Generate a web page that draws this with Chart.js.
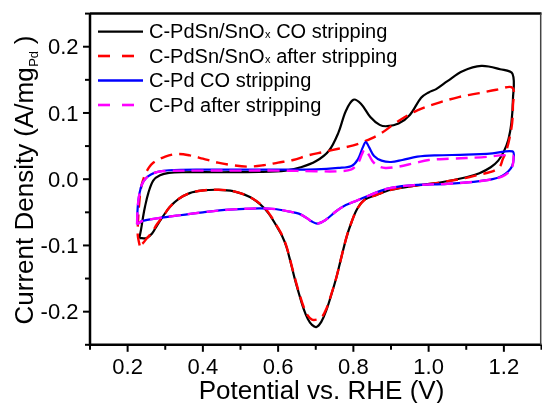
<!DOCTYPE html>
<html><head><meta charset="utf-8">
<script src="https://cdn.jsdelivr.net/npm/chart.js@4.4.1/dist/chart.umd.min.js"></script>
<style>html,body{margin:0;padding:0;background:#fff;}canvas{display:block;}</style>
</head><body>
<canvas id="c" width="542" height="403"></canvas>
<script>
// ---- Data (Potential V vs RHE, Current density A/mg_Pd) ----
const pdsnCoV = [0.231,0.236,0.241,0.246,0.255,0.268,0.286,0.31,0.35,0.45,0.55,0.62,0.66,0.70,0.735,0.76,0.78,0.80,0.82,0.845,0.87,0.89,0.92,0.95,0.98,1.00,1.02,1.05,1.09,1.14,1.19,1.223,
  1.224,1.22,1.212,1.20,1.185,1.165,1.135,1.10,1.03,0.96,0.90,0.86,0.83,0.81,0.795,0.782,0.768,0.755,0.74,0.728,0.715,0.702,0.69,0.679,0.668,0.657,0.645,0.633,0.622,0.61,0.596,0.58,0.56,0.525,0.48,0.44,0.40,0.365,0.335,0.312,0.293,0.278,0.265,0.25,0.238,0.231];
const pdsnCoJ = [-0.089,-0.075,-0.057,-0.042,-0.021,-0.002,0.006,0.0095,0.0105,0.0105,0.011,0.013,0.018,0.027,0.043,0.07,0.103,0.12,0.114,0.094,0.082,0.08,0.084,0.097,0.123,0.131,0.136,0.148,0.163,0.171,0.166,0.159,
  0.12,0.085,0.06,0.042,0.028,0.018,0.009,0.003,-0.005,-0.01,-0.016,-0.024,-0.031,-0.045,-0.065,-0.087,-0.118,-0.148,-0.177,-0.198,-0.215,-0.223,-0.220,-0.211,-0.196,-0.176,-0.152,-0.125,-0.102,-0.085,-0.071,-0.056,-0.042,-0.027,-0.018,-0.016,-0.017,-0.021,-0.03,-0.042,-0.057,-0.07,-0.082,-0.089,-0.089,-0.089];

const pdsnAfterV = [0.232,0.227,0.228,0.231,0.236,0.245,0.256,0.268,0.30,0.33,0.365,0.40,0.44,0.48,0.52,0.56,0.60,0.64,0.68,0.72,0.76,0.80,0.825,0.87,0.92,0.97,1.03,1.08,1.135,1.18,1.223,
  1.224,1.222,1.215,1.207,1.197,1.188,1.165,1.135,1.10,1.03,0.96,0.90,0.86,0.83,0.81,0.795,0.782,0.768,0.755,0.74,0.728,0.715,0.702,0.69,0.679,0.668,0.657,0.645,0.633,0.622,0.61,0.596,0.58,0.56,0.525,0.48,0.44,0.40,0.365,0.335,0.312,0.293,0.278,0.265,0.25,0.24,0.232];
const pdsnAfterJ = [-0.100,-0.085,-0.06,-0.035,-0.012,0.005,0.017,0.025,0.034,0.038,0.036,0.031,0.025,0.021,0.019,0.021,0.025,0.029,0.036,0.041,0.046,0.051,0.056,0.068,0.088,0.104,0.116,0.124,0.130,0.135,0.138,
  0.11,0.085,0.062,0.044,0.030,0.018,0.011,0.007,0.002,-0.005,-0.01,-0.016,-0.024,-0.031,-0.045,-0.065,-0.087,-0.118,-0.148,-0.176,-0.196,-0.209,-0.212,-0.212,-0.206,-0.193,-0.174,-0.150,-0.124,-0.101,-0.084,-0.07,-0.055,-0.041,-0.027,-0.018,-0.016,-0.017,-0.021,-0.03,-0.042,-0.057,-0.068,-0.08,-0.09,-0.097,-0.100];

const pdCoV = [0.225,0.226,0.228,0.232,0.238,0.248,0.262,0.28,0.31,0.40,0.50,0.60,0.70,0.76,0.795,0.812,0.825,0.833,0.842,0.855,0.875,0.90,0.93,0.97,1.02,1.10,1.17,1.223,
  1.226,1.222,1.212,1.195,1.17,1.12,1.05,0.96,0.90,0.87,0.84,0.81,0.78,0.755,0.725,0.705,0.69,0.677,0.655,0.631,0.59,0.55,0.47,0.40,0.33,0.28,0.24,0.225];
const pdCoJ = [-0.068,-0.05,-0.035,-0.02,-0.008,0.001,0.007,0.011,0.0135,0.0145,0.0145,0.0145,0.0148,0.017,0.02,0.03,0.048,0.056,0.048,0.035,0.028,0.026,0.029,0.034,0.036,0.037,0.039,0.042,
  0.03,0.02,0.012,0.005,0.0,-0.004,-0.007,-0.009,-0.013,-0.018,-0.025,-0.032,-0.039,-0.048,-0.062,-0.067,-0.064,-0.059,-0.052,-0.049,-0.045,-0.044,-0.046,-0.05,-0.055,-0.059,-0.063,-0.068];

const pdAfterV = [0.225,0.226,0.228,0.232,0.238,0.248,0.262,0.28,0.31,0.40,0.50,0.60,0.70,0.76,0.795,0.812,0.823,0.830,0.838,0.85,0.865,0.885,0.92,0.96,1.00,1.06,1.14,1.223,
  1.225,1.222,1.212,1.195,1.17,1.12,1.05,0.96,0.90,0.87,0.84,0.81,0.78,0.755,0.725,0.705,0.69,0.677,0.655,0.631,0.59,0.55,0.47,0.40,0.33,0.28,0.24,0.225];
const pdAfterJ = [-0.068,-0.05,-0.035,-0.02,-0.008,0.001,0.007,0.011,0.0125,0.013,0.013,0.013,0.012,0.012,0.015,0.024,0.038,0.045,0.04,0.028,0.02,0.017,0.019,0.024,0.029,0.031,0.033,0.036,
  0.028,0.018,0.01,0.004,0.0,-0.004,-0.007,-0.009,-0.013,-0.018,-0.025,-0.032,-0.039,-0.048,-0.062,-0.067,-0.064,-0.059,-0.052,-0.049,-0.045,-0.044,-0.046,-0.05,-0.055,-0.059,-0.063,-0.068];

// legend labels: [main, subscript, rest]
const seriesLabels = [["C-PdSn/SnO","x"," CO stripping"],["C-PdSn/SnO","x"," after stripping"],["C-Pd CO stripping","",""],["C-Pd after stripping","",""]];
const seriesColors = ["#000000","#ff0000","#0000ff","#ff00ff"];
const seriesDashed = [false,true,false,true];
const xTitle = "Potential vs. RHE (V)";
const yTitleParts = ["Current Density (A/mg","Pd"," )"];

const FONT = '"Liberation Sans", Arial, Helvetica, sans-serif';
const pts = (vs, js) => vs.map((v,i)=>({x:v, y:js[i]}));
const seriesData = [pts(pdsnCoV,pdsnCoJ), pts(pdsnAfterV,pdsnAfterJ), pts(pdCoV,pdCoJ), pts(pdAfterV,pdAfterJ)];

const datasets = seriesData.map((d,i)=>({
  label: seriesLabels[i].join(''),
  data: d,
  showLine: true,
  pointRadius: 0,
  borderColor: seriesColors[i],
  backgroundColor: seriesColors[i],
  borderWidth: seriesDashed[i] ? 2.4 : 2.2,
  borderDash: seriesDashed[i] ? [12,7] : [],
  tension: 0.35,
  fill: false,
  order: 4 - i
}));

const isMajorX = v => Math.round(v*10) % 2 === 0;
const isMajorY = v => Math.abs(Math.round(v*20)) % 2 === 0;
const fmt = v => Math.abs(v) < 1e-9 ? '0.0' : v.toFixed(1);

const decor = {
  id: 'decor',
  afterDraw(chart) {
    const ctx = chart.ctx, a = chart.chartArea, xs = chart.scales.x, ys = chart.scales.y;
    ctx.save();
    // frame
    ctx.strokeStyle = '#000'; ctx.lineWidth = 2.5;
    ctx.beginPath();
    ctx.moveTo(a.left, a.top); ctx.lineTo(a.left, a.bottom); ctx.lineTo(a.right, a.bottom);
    ctx.moveTo(a.left, a.top); ctx.lineTo(a.right, a.top);
    ctx.stroke();
    ctx.strokeStyle = '#444'; ctx.lineWidth = 1.5;
    ctx.beginPath(); ctx.moveTo(a.right-0.8, a.top); ctx.lineTo(a.right-0.8, a.bottom); ctx.stroke();
    // tick marks and tick labels
    ctx.strokeStyle = '#000'; ctx.lineWidth = 2; ctx.fillStyle = '#000';
    ctx.font = '22px ' + FONT;
    xs.ticks.forEach(t => {
      const px = xs.getPixelForValue(t.value), major = isMajorX(t.value);
      ctx.beginPath(); ctx.moveTo(px, a.bottom); ctx.lineTo(px, a.bottom + (major ? 7 : 5)); ctx.stroke();
      if (major) { ctx.textAlign = 'center'; ctx.textBaseline = 'alphabetic'; ctx.fillText(fmt(t.value), px, 373.5); }
    });
    ys.ticks.forEach(t => {
      const py = ys.getPixelForValue(t.value), major = isMajorY(t.value);
      ctx.beginPath(); ctx.moveTo(a.left, py); ctx.lineTo(a.left - (major ? 7 : 5), py); ctx.stroke();
      if (major) { ctx.textAlign = 'right'; ctx.textBaseline = 'alphabetic'; ctx.fillText(fmt(t.value), 78.5, py + 7.6); }
    });
    // x title
    ctx.font = '26px ' + FONT;
    ctx.textAlign = 'center'; ctx.textBaseline = 'alphabetic';
    ctx.fillText(xTitle, 321.5, 398.5);
    // y title (rotated, with subscript)
    ctx.save();
    ctx.translate(33, 180);
    ctx.rotate(-Math.PI/2);
    ctx.textAlign = 'left';
    const bigF = '26px ' + FONT, subF = '13px ' + FONT;
    ctx.font = bigF; const w1 = ctx.measureText(yTitleParts[0]).width, w3 = ctx.measureText(yTitleParts[2]).width;
    ctx.font = subF; const w2 = ctx.measureText(yTitleParts[1]).width;
    let x0 = -(w1 + w2 + w3)/2;
    ctx.font = bigF; ctx.fillText(yTitleParts[0], x0, 0);
    ctx.font = subF; ctx.fillText(yTitleParts[1], x0 + w1 + 0.5, 5);
    ctx.font = bigF; ctx.fillText(yTitleParts[2], x0 + w1 + w2, 0);
    ctx.restore();
    // legend
    const baseY = [38.3, 62.7, 87.2, 111.7];
    seriesLabels.forEach((lab, i) => {
      const ly = baseY[i] - 6.7;
      ctx.strokeStyle = seriesColors[i];
      ctx.lineWidth = seriesDashed[i] ? 2.6 : 2.4;
      ctx.setLineDash(seriesDashed[i] ? [12,12] : []);
      ctx.beginPath(); ctx.moveTo(98, ly); ctx.lineTo(143, ly); ctx.stroke();
      ctx.setLineDash([]);
      ctx.fillStyle = '#000';
      ctx.textAlign = 'left'; ctx.textBaseline = 'alphabetic';
      let x = 149;
      ctx.font = '20px ' + FONT; ctx.fillText(lab[0], x, baseY[i]); x += ctx.measureText(lab[0]).width;
      if (lab[1]) { ctx.font = '11px ' + FONT; ctx.fillText(lab[1], x + 0.5, baseY[i]); x += ctx.measureText(lab[1]).width + 0.5; }
      if (lab[2]) { ctx.font = '20px ' + FONT; ctx.fillText(lab[2], x, baseY[i]); }
    });
    ctx.restore();
  }
};

new Chart(document.getElementById('c'), {
  type: 'scatter',
  data: { datasets },
  options: {
    responsive: false,
    animation: false,
    devicePixelRatio: 1,
    layout: { padding: { top: 13.6, right: 0.5, left: 0, bottom: 0 } },
    plugins: { legend: { display: false }, tooltip: { enabled: false } },
    scales: {
      x: {
        type: 'linear', min: 0.1, max: 1.3,
        grid: { display: false }, border: { display: false },
        ticks: { display: false, stepSize: 0.1, autoSkip: false },
        afterFit: s => { s.height = 58.2; }
      },
      y: {
        type: 'linear', min: -0.25, max: 0.25,
        grid: { display: false }, border: { display: false },
        ticks: { display: false, stepSize: 0.05, autoSkip: false },
        afterFit: s => { s.width = 90; }
      }
    }
  },
  plugins: [decor]
});
</script>
</body></html>
